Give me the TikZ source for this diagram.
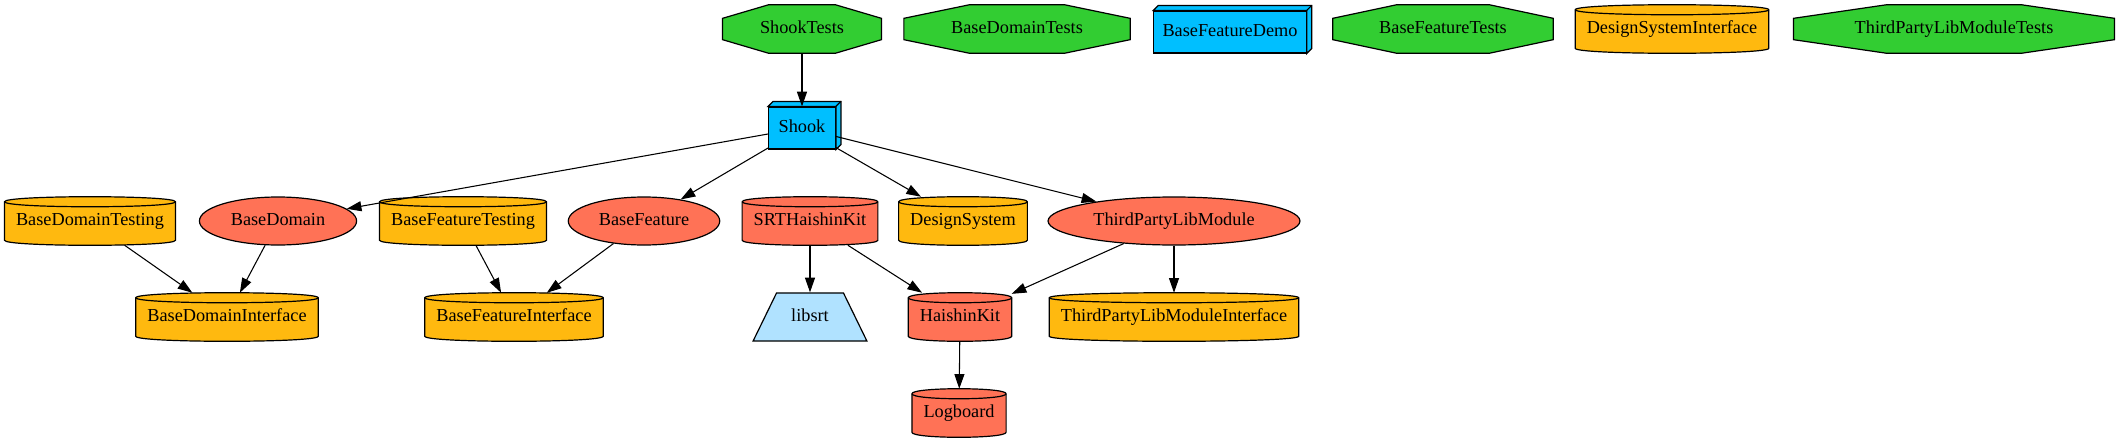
\documentclass[tikz,border=0pt]{standalone}
\usepackage{fontspec}
\setmainfont{Liberation Serif}
\usetikzlibrary{shapes.geometric,arrows.meta,calc,backgrounds}

\definecolor{testgreen}{HTML}{32CD32}
\definecolor{appblue}{HTML}{00BFFF}
\definecolor{ifaceyellow}{HTML}{FFB90F}
\definecolor{extred}{HTML}{FF7256}
\definecolor{binblue}{HTML}{B0E2FF}

\tikzset{
  every node/.style={font=\fontsize{13.7}{16}\selectfont, text height=9.2pt, text depth=2.9pt},
  testnode/.style={ellipse, minimum height=36pt, inner xsep=10.5pt, inner ysep=0pt},
  libnode/.style={ellipse, draw, fill=extred, line width=0.9pt, minimum height=36pt, inner xsep=6.3pt, inner ysep=0pt},
  cylnode/.style={rectangle, minimum height=36pt, minimum width=54pt, inner xsep=8.5pt},
  appnode/.style={rectangle, draw, fill=appblue, line width=0.9pt, minimum height=31.5pt, minimum width=50pt, inner xsep=6.5pt},
  binnode/.style={trapezium, draw, fill=binblue, line width=0.9pt, trapezium angle=64, inner xsep=11pt, inner ysep=12pt},
  shapeline/.style={line width=0.9pt},
  dep/.style={-{Triangle[length=11pt,width=7.5pt]}, line width=0.8pt}
}

\newcommand{\octframe}[1]{%
  \filldraw[shapeline, fill=testgreen]
    ($(#1.west |- #1.north)!.29!(#1.east |- #1.north)$) --
    ($(#1.west |- #1.north)!.71!(#1.east |- #1.north)$) --
    ($(#1.east |- #1.north)!.28!(#1.east |- #1.south)$) --
    ($(#1.east |- #1.north)!.72!(#1.east |- #1.south)$) --
    ($(#1.west |- #1.south)!.71!(#1.east |- #1.south)$) --
    ($(#1.west |- #1.south)!.29!(#1.east |- #1.south)$) --
    ($(#1.west |- #1.north)!.72!(#1.west |- #1.south)$) --
    ($(#1.west |- #1.north)!.28!(#1.west |- #1.south)$) -- cycle;}

\newcommand{\cylframe}[2]{%
  \filldraw[shapeline, fill=#2]
    ($(#1.north west)+(0,5)$) -- ($(#1.south west)+(0,-5)$)
    .. controls +(0,6.7) and +(0,6.7) .. ($(#1.south east)+(0,-5)$)
    -- ($(#1.north east)+(0,5)$)
    .. controls +(0,-6.7) and +(0,-6.7) .. ($(#1.north west)+(0,5)$) -- cycle;
  \draw[shapeline] ($(#1.north west)+(0,5)$) .. controls +(0,6.7) and +(0,6.7) .. ($(#1.north east)+(0,5)$);}

\newcommand{\boxdepth}[1]{%
  \filldraw[shapeline, fill=appblue] (#1.north west) -- ++(5,-5) -- ($(#1.north east)+(5,-5)$)
    -- ($(#1.south east)+(5,-5)$) -- (#1.south east) -- (#1.north east) -- cycle;
  \draw[shapeline] (#1.north east) -- ++(5,-5);}

\begin{document}
\begin{tikzpicture}[x=0.75pt,y=0.75pt,yscale=-1,xscale=1]
	\useasboundingbox (0,0) rectangle (2121,443);
	\node[testnode] (shooktests) at (802,29) {ShookTests};
	\node[testnode] (basedomaintests) at (1017,29) {BaseDomainTests};
	\node[appnode] (basefeaturedemo) at (1230,32) {BaseFeatureDemo};
	\node[testnode] (basefeaturetests) at (1443,29) {BaseFeatureTests};
	\node[cylnode] (designsysteminterface) at (1672,29) {DesignSystemInterface};
	\node[testnode] (thirdpartytests) at (1954,29) {ThirdPartyLibModuleTests};
	\node[appnode] (shook) at (802,128) {Shook};
	\node[cylnode] (basedomaintesting) at (90,221) {BaseDomainTesting};
	\node[libnode] (basedomain) at (278,221) {BaseDomain};
	\node[cylnode] (basefeaturetesting) at (463,221) {BaseFeatureTesting};
	\node[libnode] (basefeature) at (644,221) {BaseFeature};
	\node[cylnode] (srthaishinkit) at (810,221) {SRTHaishinKit};
	\node[cylnode] (designsystem) at (963,221) {DesignSystem};
	\node[libnode] (thirdparty) at (1174,221) {ThirdPartyLibModule};
	\node[cylnode] (basedomaininterface) at (227,317) {BaseDomainInterface};
	\node[cylnode] (basefeatureinterface) at (514,317) {BaseFeatureInterface};
	\node[binnode] (libsrt) at (810,317) {libsrt};
	\node[cylnode] (haishinkit) at (960,317) {HaishinKit};
	\node[cylnode] (thirdpartyinterface) at (1174,317) {ThirdPartyLibModuleInterface};
	\node[cylnode] (logboard) at (959,413) {Logboard};
	\begin{pgfonlayer}{background}
		\foreach \n in {shooktests,basedomaintests,basefeaturetests,thirdpartytests}
			{\octframe{\n}}
		\foreach \n in {designsysteminterface,basedomaintesting,basefeaturetesting,designsystem,basedomaininterface,basefeatureinterface,thirdpartyinterface}
			{\cylframe{\n}{ifaceyellow}}
		\foreach \n in {srthaishinkit,haishinkit,logboard}
			{\cylframe{\n}{extred}}
	\end{pgfonlayer}
	\boxdepth{shook}
	\boxdepth{basefeaturedemo}
	\draw[dep] (shooktests) -- (shook);
	\draw[dep] (shook) -- (basedomain);
	\draw[dep] (shook) -- (basefeature);
	\draw[dep] (shook) -- (designsystem);
	\draw[dep] (shook) -- (thirdparty);
	\draw[dep] (basedomaintesting) -- (basedomaininterface);
	\draw[dep] (basedomain) -- (basedomaininterface);
	\draw[dep] (basefeaturetesting) -- (basefeatureinterface);
	\draw[dep] (basefeature) -- (basefeatureinterface);
	\draw[dep] (srthaishinkit) -- (libsrt);
	\draw[dep] (srthaishinkit) -- (haishinkit);
	\draw[dep] (thirdparty) -- (haishinkit);
	\draw[dep] (thirdparty) -- (thirdpartyinterface);
	\draw[dep] (haishinkit) -- (logboard);
\end{tikzpicture}
\end{document}
